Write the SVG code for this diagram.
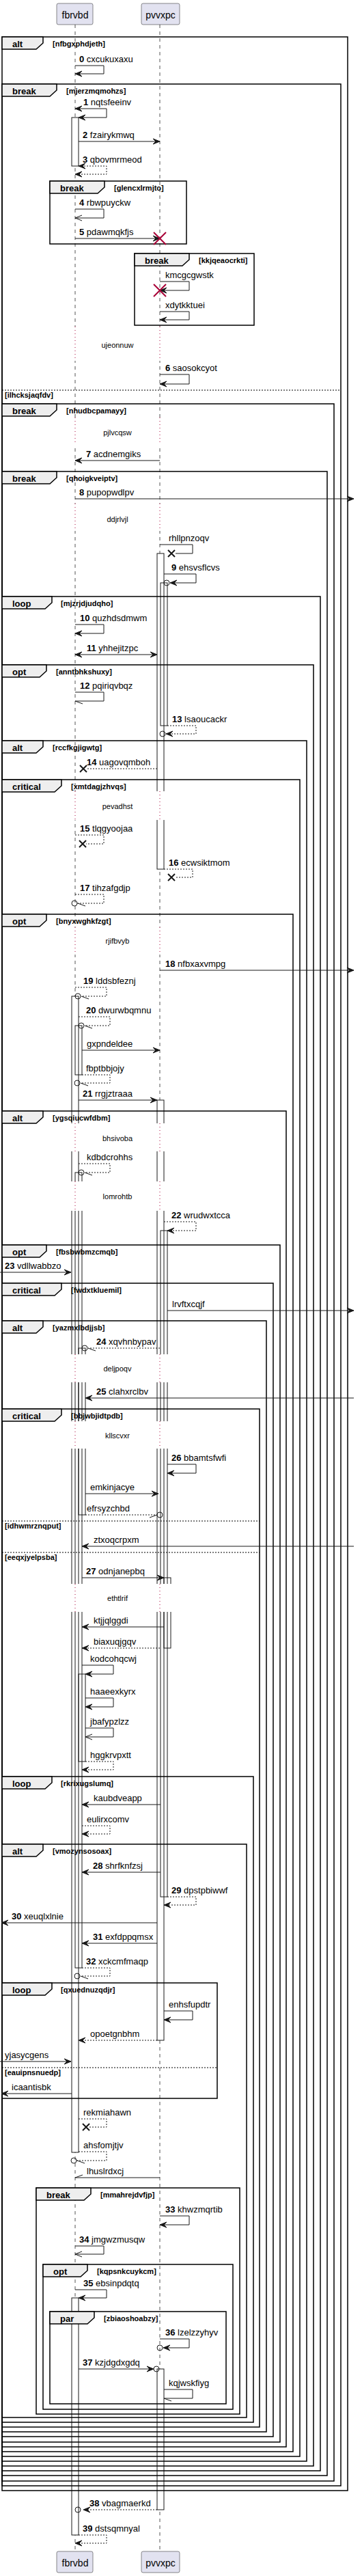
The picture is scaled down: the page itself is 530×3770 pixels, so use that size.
<svg xmlns="http://www.w3.org/2000/svg" width="530" height="3770" viewBox="0 0 530 3770">
<style>
text{font-family:"Liberation Sans",Arial,sans-serif;fill:#000}
.t{font-size:13px}
.n{font-weight:bold}
.p{font-size:14px;text-anchor:middle}
.fl{font-size:13px;font-weight:bold}
.fc{font-size:11px;font-weight:bold}
.dt{font-size:11px;text-anchor:middle}
.fr{fill:none;stroke:#000;stroke-width:1.5}
.tab{fill:#EEEEEE;stroke:#000;stroke-width:1.5}
.sep{stroke:#000;stroke-width:1;stroke-dasharray:2,2}
.ll{stroke:#555;stroke-width:1;stroke-dasharray:5,5}
.af{fill:#fff;stroke:none}
.as{fill:none;stroke:#181818;stroke-width:1}
.m{fill:none;stroke:#181818;stroke-width:1}
.d{stroke-dasharray:2,2}
.dl{stroke:#A80036;stroke-width:1;stroke-dasharray:1,4}
.pb{fill:#E2E2F0;stroke:#181818;stroke-width:0.5}
</style>
<defs>
<path id="hl" d="M0,0 L10,-4 L6,0 L10,4 Z" fill="#181818" stroke="#181818" stroke-width="1"/>
<path id="hr" d="M0,0 L-10,-4 L-6,0 L-10,4 Z" fill="#181818" stroke="#181818" stroke-width="1"/>
<path id="ol" d="M10,-4 L0,0 L10,4" fill="none" stroke="#181818" stroke-width="1"/>
<path id="hll" d="M0,0 L11,4" stroke="#181818" stroke-width="1"/>
<path id="hlr" d="M0,0 L-11,4" stroke="#181818" stroke-width="1"/>
<path id="hul" d="M0,0 L11,-4" stroke="#181818" stroke-width="1"/>
<circle id="oc" r="4" fill="none" stroke="#181818" stroke-width="1"/>
<path id="rx" d="M-9,-9 L9,9 M9,-9 L-9,9" stroke="#A80036" stroke-width="2"/>
<path id="bx" d="M-5,-5 L5,5 M5,-5 L-5,5" stroke="#181818" stroke-width="2"/>
</defs>
<rect width="530" height="3770" fill="#fff"/>

<g id="lifelines">
<line x1="110" y1="36" x2="110" y2="3734" class="ll"/>
<line x1="234" y1="36" x2="234" y2="3734" class="ll"/>
</g>

<g id="p-fbrvbd">
<rect x="83" y="5" width="53" height="31" rx="2.5" class="pb"/>
<text x="110" y="27" class="p">fbrvbd</text>
<rect x="83" y="3734" width="53" height="31" rx="2.5" class="pb"/>
<text x="110" y="3756" class="p">fbrvbd</text>
</g>
<g id="p-pvvxpc">
<rect x="207" y="5" width="56" height="31" rx="2.5" class="pb"/>
<text x="235" y="27" class="p">pvvxpc</text>
<rect x="207" y="3734" width="56" height="31" rx="2.5" class="pb"/>
<text x="235" y="3756" class="p">pvvxpc</text>
</g>

<g id="activations">
<rect x="105" y="172" width="10" height="71" class="af"/>
<rect x="105" y="1458" width="10" height="1692" class="af"/>
<rect x="110" y="1501" width="10" height="72" class="af"/>
<rect x="110" y="1716" width="10" height="1164" class="af"/>
<rect x="115" y="1973" width="10" height="244" class="af"/>
<rect x="115" y="2450" width="10" height="128" class="af"/>
<rect x="105" y="3363" width="10" height="347" class="af"/>
<rect x="230" y="810" width="10" height="462" class="af"/>
<rect x="235" y="853" width="10" height="209" class="af"/>
<rect x="230" y="1610" width="10" height="1376" class="af"/>
<rect x="235" y="1801" width="10" height="975" class="af"/>
<rect x="240" y="2309" width="10" height="103" class="af"/>
<rect x="230" y="3467" width="10" height="206" class="af"/>
<rect x="105" y="172" width="10" height="71" class="as"/>
<rect x="105" y="1458" width="10" height="1692" class="as"/>
<rect x="110" y="1501" width="10" height="72" class="as"/>
<rect x="110" y="1716" width="10" height="1164" class="as"/>
<rect x="115" y="1973" width="10" height="244" class="as"/>
<rect x="115" y="2450" width="10" height="128" class="as"/>
<rect x="105" y="3363" width="10" height="347" class="as"/>
<rect x="230" y="810" width="10" height="462" class="as"/>
<rect x="235" y="853" width="10" height="209" class="as"/>
<rect x="230" y="1610" width="10" height="1376" class="as"/>
<rect x="235" y="1801" width="10" height="975" class="as"/>
<rect x="240" y="2309" width="10" height="103" class="as"/>
<rect x="230" y="3467" width="10" height="206" class="as"/>
</g>

<g id="delays">
<rect x="98" y="478" width="155" height="50" class="af"/>
<line x1="110" y1="478" x2="110" y2="528" class="dl"/><line x1="234" y1="478" x2="234" y2="528" class="dl"/>
<text x="172" y="509" class="dt">ujeonnuw</text>
<rect x="98" y="611" width="155" height="40" class="af"/>
<line x1="110" y1="611" x2="110" y2="651" class="dl"/><line x1="234" y1="611" x2="234" y2="651" class="dl"/>
<text x="172" y="637" class="dt">pjlvcqsw</text>
<rect x="98" y="737" width="155" height="40" class="af"/>
<line x1="110" y1="737" x2="110" y2="777" class="dl"/><line x1="234" y1="737" x2="234" y2="777" class="dl"/>
<text x="172" y="764" class="dt">ddjrlvjl</text>
<rect x="98" y="1158" width="155" height="42" class="af"/>
<line x1="110" y1="1158" x2="110" y2="1200" class="dl"/><line x1="234" y1="1158" x2="234" y2="1200" class="dl"/>
<text x="172" y="1184" class="dt">pevadhst</text>
<rect x="98" y="1357" width="155" height="40" class="af"/>
<line x1="110" y1="1357" x2="110" y2="1397" class="dl"/><line x1="234" y1="1357" x2="234" y2="1397" class="dl"/>
<text x="172" y="1381" class="dt">rjifbvyb</text>
<rect x="98" y="1644" width="155" height="41" class="af"/>
<line x1="110" y1="1644" x2="110" y2="1685" class="dl"/><line x1="234" y1="1644" x2="234" y2="1685" class="dl"/>
<text x="172" y="1670" class="dt">bhsivoba</text>
<rect x="98" y="1729" width="155" height="43" class="af"/>
<line x1="110" y1="1729" x2="110" y2="1772" class="dl"/><line x1="234" y1="1729" x2="234" y2="1772" class="dl"/>
<text x="172" y="1755" class="dt">lomrohtb</text>
<rect x="98" y="1982" width="155" height="41" class="af"/>
<line x1="110" y1="1982" x2="110" y2="2023" class="dl"/><line x1="234" y1="1982" x2="234" y2="2023" class="dl"/>
<text x="172" y="2007" class="dt">deljpoqv</text>
<rect x="98" y="2080" width="155" height="40" class="af"/>
<line x1="110" y1="2080" x2="110" y2="2120" class="dl"/><line x1="234" y1="2080" x2="234" y2="2120" class="dl"/>
<text x="172" y="2105" class="dt">kllscvxr</text>
<rect x="98" y="2318" width="155" height="41" class="af"/>
<line x1="110" y1="2318" x2="110" y2="2359" class="dl"/><line x1="234" y1="2318" x2="234" y2="2359" class="dl"/>
<text x="172" y="2343" class="dt">ethtlrif</text>
</g>

<g id="frame-alt-nfbgxphdjeth">
<rect x="3" y="54" width="506" height="3591" class="fr"/>
<path d="M3,54 H63 V63 L53,72 H3 Z" class="tab"/>
<text x="18" y="69" class="fl">alt</text><text x="77" y="68" class="fc">[nfbgxphdjeth]</text>
<line x1="3" y1="571" x2="499" y2="571" class="sep"/>
<text x="7" y="582" class="fc">[ilhcksjaqfdv]</text>
</g>
<g id="frame-break-mjerzmqmohzs">
<rect x="3" y="123" width="496" height="3515" class="fr"/>
<path d="M3,123 H83 V132 L73,141 H3 Z" class="tab"/>
<text x="18" y="138" class="fl">break</text><text x="97" y="137" class="fc">[mjerzmqmohzs]</text>
</g>
<g id="frame-break-glencxlrmjto">
<rect x="73" y="265" width="200" height="92" class="fr"/>
<path d="M73,265 H153 V274 L143,283 H73 Z" class="tab"/>
<text x="88" y="280" class="fl">break</text><text x="167" y="279" class="fc">[glencxlrmjto]</text>
</g>
<g id="frame-break-kkjqeaocrkti">
<rect x="197" y="371" width="175" height="105" class="fr"/>
<path d="M197,371 H277 V380 L267,389 H197 Z" class="tab"/>
<text x="212" y="386" class="fl">break</text><text x="291" y="385" class="fc">[kkjqeaocrkti]</text>
</g>
<g id="frame-break-nhudbcpamayy">
<rect x="3" y="591" width="486" height="3040" class="fr"/>
<path d="M3,591 H83 V600 L73,609 H3 Z" class="tab"/>
<text x="18" y="606" class="fl">break</text><text x="97" y="605" class="fc">[nhudbcpamayy]</text>
</g>
<g id="frame-break-qhoigkveiptv">
<rect x="3" y="690" width="476" height="2933" class="fr"/>
<path d="M3,690 H83 V699 L73,708 H3 Z" class="tab"/>
<text x="18" y="705" class="fl">break</text><text x="97" y="704" class="fc">[qhoigkveiptv]</text>
</g>
<g id="frame-loop-mjzrjdjudqho">
<rect x="3" y="873" width="466" height="2743" class="fr"/>
<path d="M3,873 H76 V882 L66,891 H3 Z" class="tab"/>
<text x="18" y="888" class="fl">loop</text><text x="89" y="887" class="fc">[mjzrjdjudqho]</text>
</g>
<g id="frame-opt-anntbhkshuxy">
<rect x="3" y="973" width="456" height="2636" class="fr"/>
<path d="M3,973 H68 V982 L58,991 H3 Z" class="tab"/>
<text x="18" y="988" class="fl">opt</text><text x="82" y="987" class="fc">[anntbhkshuxy]</text>
</g>
<g id="frame-alt-rccfkgjigwtg">
<rect x="3" y="1084" width="446" height="2518" class="fr"/>
<path d="M3,1084 H63 V1093 L53,1102 H3 Z" class="tab"/>
<text x="18" y="1099" class="fl">alt</text><text x="77" y="1098" class="fc">[rccfkgjigwtg]</text>
</g>
<g id="frame-critical-xmtdagjzhvqs">
<rect x="3" y="1141" width="436" height="2454" class="fr"/>
<path d="M3,1141 H90 V1150 L80,1159 H3 Z" class="tab"/>
<text x="18" y="1156" class="fl">critical</text><text x="104" y="1155" class="fc">[xmtdagjzhvqs]</text>
</g>
<g id="frame-opt-bnyxwghkfzgt">
<rect x="3" y="1338" width="426" height="2250" class="fr"/>
<path d="M3,1338 H68 V1347 L58,1356 H3 Z" class="tab"/>
<text x="18" y="1353" class="fl">opt</text><text x="82" y="1352" class="fc">[bnyxwghkfzgt]</text>
</g>
<g id="frame-alt-ygsqiucwfdbm">
<rect x="3" y="1626" width="416" height="1955" class="fr"/>
<path d="M3,1626 H63 V1635 L53,1644 H3 Z" class="tab"/>
<text x="18" y="1641" class="fl">alt</text><text x="77" y="1640" class="fc">[ygsqiucwfdbm]</text>
</g>
<g id="frame-opt-fbsbwbmzcmqb">
<rect x="3" y="1822" width="407" height="1752" class="fr"/>
<path d="M3,1822 H68 V1831 L58,1840 H3 Z" class="tab"/>
<text x="18" y="1837" class="fl">opt</text><text x="82" y="1836" class="fc">[fbsbwbmzcmqb]</text>
</g>
<g id="frame-critical-fwdxtkluemil">
<rect x="3" y="1878" width="397" height="1688" class="fr"/>
<path d="M3,1878 H90 V1887 L80,1896 H3 Z" class="tab"/>
<text x="18" y="1893" class="fl">critical</text><text x="104" y="1892" class="fc">[fwdxtkluemil]</text>
</g>
<g id="frame-alt-yazmxlbdjjsb">
<rect x="3" y="1933" width="387" height="1626" class="fr"/>
<path d="M3,1933 H63 V1942 L53,1951 H3 Z" class="tab"/>
<text x="18" y="1948" class="fl">alt</text><text x="77" y="1947" class="fc">[yazmxlbdjjsb]</text>
</g>
<g id="frame-critical-bbjwbjidtpdb">
<rect x="3" y="2062" width="377" height="1490" class="fr"/>
<path d="M3,2062 H90 V2071 L80,2080 H3 Z" class="tab"/>
<text x="18" y="2077" class="fl">critical</text><text x="104" y="2076" class="fc">[bbjwbjidtpdb]</text>
<line x1="3" y1="2226" x2="380" y2="2226" class="sep"/>
<text x="7" y="2237" class="fc">[idhwmrznqput]</text>
<line x1="3" y1="2272" x2="380" y2="2272" class="sep"/>
<text x="7" y="2283" class="fc">[eeqxjyelpsba]</text>
</g>
<g id="frame-loop-rkrixugslumq">
<rect x="3" y="2600" width="368" height="945" class="fr"/>
<path d="M3,2600 H76 V2609 L66,2618 H3 Z" class="tab"/>
<text x="18" y="2615" class="fl">loop</text><text x="89" y="2614" class="fc">[rkrixugslumq]</text>
</g>
<g id="frame-alt-vmozynsosoax">
<rect x="3" y="2699" width="358" height="839" class="fr"/>
<path d="M3,2699 H63 V2708 L53,2717 H3 Z" class="tab"/>
<text x="18" y="2714" class="fl">alt</text><text x="77" y="2713" class="fc">[vmozynsosoax]</text>
</g>
<g id="frame-loop-qxuednuzqdjr">
<rect x="3" y="2902" width="315" height="169" class="fr"/>
<path d="M3,2902 H76 V2911 L66,2920 H3 Z" class="tab"/>
<text x="18" y="2917" class="fl">loop</text><text x="89" y="2916" class="fc">[qxuednuzqdjr]</text>
<line x1="3" y1="3026" x2="318" y2="3026" class="sep"/>
<text x="7" y="3037" class="fc">[eauipnsnuedp]</text>
</g>
<g id="frame-break-mmahrejdvfjp">
<rect x="53" y="3202" width="298" height="331" class="fr"/>
<path d="M53,3202 H133 V3211 L123,3220 H53 Z" class="tab"/>
<text x="68" y="3217" class="fl">break</text><text x="147" y="3216" class="fc">[mmahrejdvfjp]</text>
</g>
<g id="frame-opt-kqpsnkcuykcm">
<rect x="63" y="3314" width="278" height="212" class="fr"/>
<path d="M63,3314 H128 V3323 L118,3332 H63 Z" class="tab"/>
<text x="78" y="3329" class="fl">opt</text><text x="142" y="3328" class="fc">[kqpsnkcuykcm]</text>
</g>
<g id="frame-par-zbiaoshoabzy">
<rect x="73" y="3383" width="258" height="135" class="fr"/>
<path d="M73,3383 H138 V3392 L128,3401 H73 Z" class="tab"/>
<text x="88" y="3398" class="fl">par</text><text x="152" y="3397" class="fc">[zbiaoshoabzy]</text>
</g>

<g id="connectors">
<path d="M110,96 H152 V108 H110" class="m"/><use href="#hl" x="110" y="108"/>
<path d="M110,159 H156 V172 H115" class="m"/><use href="#hl" x="110" y="159"/><use href="#hl" x="115" y="172"/>
<path d="M115,207 H234" class="m"/><use href="#hr" x="234" y="207"/>
<path d="M115,243 H156 V255 H110" class="m d"/><use href="#hl" x="115" y="243"/><use href="#hl" x="110" y="255"/>
<path d="M110,306 H152 V319 H110" class="m"/><use href="#ol" x="110" y="319"/>
<path d="M110,349 H234" class="m"/><use href="#hr" x="234" y="349"/><use href="#rx" x="234" y="349"/>
<path d="M234,412 H277 V425 H234" class="m"/><use href="#hl" x="234" y="425"/><use href="#rx" x="234" y="425"/>
<path d="M234,456 H277 V468 H234" class="m"/><use href="#hl" x="234" y="468"/>
<path d="M234,548 H277 V562 H234" class="m"/><use href="#hl" x="234" y="562"/>
<path d="M234,674 H110" class="m"/><use href="#hl" x="110" y="674"/>
<path d="M110,730 H518" class="m"/><use href="#hr" x="518" y="730"/>
<path d="M234,797 H282 V810 H257" class="m"/><use href="#bx" x="251" y="810"/>
<path d="M240,840 H287 V853 H249" class="m"/><use href="#hl" x="249" y="853"/><use href="#oc" x="244" y="853"/>
<path d="M110,914 H152 V927 H110" class="m"/><use href="#hl" x="110" y="927"/>
<path d="M110,958 H230" class="m"/><use href="#hl" x="110" y="958"/><use href="#hr" x="230" y="958"/>
<path d="M110,1013 H152 V1026 H110" class="m"/><use href="#hll" x="110" y="1026"/>
<path d="M245,1062 H287 V1074 H243" class="m d"/><use href="#hl" x="243" y="1074"/><use href="#oc" x="238" y="1074"/>
<path d="M230,1125 H127" class="m d"/><use href="#bx" x="122" y="1125"/>
<path d="M110,1222 H152 V1235 H126" class="m d"/><use href="#bx" x="121" y="1235"/>
<path d="M240,1272 H282 V1284 H256" class="m d"/><use href="#bx" x="251" y="1284"/>
<path d="M110,1309 H152 V1322 H113" class="m d"/><use href="#hll" x="114" y="1322"/><use href="#oc" x="109" y="1322"/>
<path d="M234,1420 H518" class="m"/><use href="#hr" x="518" y="1420"/>
<path d="M110,1445 H156 V1458 H119" class="m d"/><use href="#hll" x="119" y="1458"/><use href="#oc" x="114" y="1458"/>
<path d="M115,1488 H161 V1501 H124" class="m d"/><use href="#hll" x="124" y="1501"/><use href="#oc" x="119" y="1501"/>
<path d="M120,1537 H234" class="m"/><use href="#hr" x="234" y="1537"/>
<path d="M120,1573 H161 V1585 H118" class="m d"/><use href="#hll" x="118" y="1585"/><use href="#oc" x="113" y="1585"/>
<path d="M115,1610 H230" class="m"/><use href="#hr" x="230" y="1610"/>
<path d="M115,1703 H161 V1716 H124" class="m d"/><use href="#hll" x="124" y="1716"/><use href="#oc" x="119" y="1716"/>
<path d="M240,1788 H287 V1801 H245" class="m d"/><use href="#hl" x="245" y="1801"/>
<path d="M0,1862 H104" class="m"/><use href="#hr" x="104" y="1862"/>
<path d="M245,1918 H518" class="m"/><use href="#hr" x="518" y="1918"/>
<path d="M234,1973 H129" class="m d"/><use href="#hll" x="129" y="1973"/><use href="#oc" x="124" y="1973"/>
<path d="M518,2046 H125" class="m"/><use href="#hl" x="125" y="2046"/>
<path d="M245,2143 H287 V2156 H245" class="m"/><use href="#hl" x="245" y="2156"/>
<path d="M125,2186 H232" class="m"/><use href="#hr" x="232" y="2186"/>
<path d="M125,2217 H230" class="m d"/><use href="#hlr" x="230" y="2217"/><use href="#oc" x="234" y="2217"/>
<path d="M518,2263 H120" class="m"/><use href="#hl" x="120" y="2263"/>
<path d="M120,2309 H240" class="m"/><use href="#hr" x="240" y="2309"/>
<path d="M240,2381 H120" class="m"/><use href="#hl" x="120" y="2381"/>
<path d="M234,2412 H120" class="m d"/><use href="#hl" x="120" y="2412"/>
<path d="M120,2437 H166 V2450 H125" class="m"/><use href="#hl" x="125" y="2450"/>
<path d="M125,2485 H166 V2498 H125" class="m"/><use href="#hl" x="125" y="2498"/>
<path d="M125,2529 H166 V2542 H125" class="m"/><use href="#ol" x="125" y="2542"/>
<path d="M125,2578 H166 V2590 H120" class="m d"/><use href="#hl" x="120" y="2590"/>
<path d="M235,2641 H120" class="m"/><use href="#hl" x="120" y="2641"/>
<path d="M120,2672 H161 V2684 H120" class="m d"/><use href="#hl" x="120" y="2684"/>
<path d="M235,2740 H120" class="m"/><use href="#hl" x="120" y="2740"/>
<path d="M245,2776 H287 V2788 H240" class="m d"/><use href="#hl" x="240" y="2788"/>
<path d="M230,2814 H2" class="m"/><use href="#hl" x="2" y="2814"/>
<path d="M230,2844 H120" class="m"/><use href="#hl" x="120" y="2844"/>
<path d="M120,2880 H161 V2892 H118" class="m d"/><use href="#hll" x="118" y="2892"/><use href="#oc" x="113" y="2892"/>
<path d="M240,2943 H282 V2956 H240" class="m"/><use href="#hl" x="240" y="2956"/>
<path d="M230,2986 H115" class="m d"/><use href="#hl" x="115" y="2986"/>
<path d="M0,3017 H104" class="m"/><use href="#hr" x="104" y="3017"/>
<path d="M105,3064 H2" class="m"/><use href="#hl" x="2" y="3064"/>
<path d="M115,3101 H156 V3113 H131" class="m d"/><use href="#bx" x="126" y="3113"/>
<path d="M115,3149 H156 V3162 H112" class="m d"/><use href="#hll" x="113" y="3162"/><use href="#oc" x="108" y="3162"/>
<path d="M234,3187 H110" class="m"/><use href="#hul" x="110" y="3187"/>
<path d="M234,3243 H277 V3256 H234" class="m"/><use href="#hl" x="234" y="3256"/>
<path d="M110,3287 H152 V3299 H110" class="m"/><use href="#ol" x="110" y="3299"/>
<path d="M110,3351 H156 V3363 H115" class="m"/><use href="#hl" x="115" y="3363"/>
<path d="M234,3423 H277 V3436 H239" class="m"/><use href="#hl" x="239" y="3436"/><use href="#oc" x="234" y="3436"/>
<path d="M115,3467 H225" class="m"/><use href="#hr" x="225" y="3467"/><use href="#oc" x="229" y="3467"/>
<path d="M240,3497 H282 V3510 H240" class="m"/><use href="#hll" x="240" y="3510"/>
<path d="M230,3673 H122" class="m d"/><use href="#hl" x="122" y="3673"/><use href="#oc" x="114" y="3673"/>
<path d="M115,3710 H156 V3722 H110" class="m d"/><use href="#hl" x="110" y="3722"/>
</g>

<g id="labels" class="t">
<text x="116" y="91" class="t"><tspan class="n">0</tspan> cxcukuxaxu</text>
<text x="122" y="154" class="t"><tspan class="n">1</tspan> nqtsfeeinv</text>
<text x="121" y="202" class="t"><tspan class="n">2</tspan> fzairykmwq</text>
<text x="121" y="238" class="t"><tspan class="n">3</tspan> qbovmrmeod</text>
<text x="116" y="301" class="t"><tspan class="n">4</tspan> rbwpuyckw</text>
<text x="116" y="344" class="t"><tspan class="n">5</tspan> pdawmqkfjs</text>
<text x="242" y="407" class="t">kmcgcgwstk</text>
<text x="242" y="451" class="t">xdytkktuei</text>
<text x="242" y="543" class="t"><tspan class="n">6</tspan> saosokcyot</text>
<text x="126" y="669" class="t"><tspan class="n">7</tspan> acdnemgiks</text>
<text x="116" y="725" class="t"><tspan class="n">8</tspan> pupopwdlpv</text>
<text x="247" y="792" class="t">rhllpnzoqv</text>
<text x="251" y="835" class="t"><tspan class="n">9</tspan> ehsvsflcvs</text>
<text x="117" y="909" class="t"><tspan class="n">10</tspan> quzhdsdmwm</text>
<text x="127" y="953" class="t"><tspan class="n">11</tspan> yhhejitzpc</text>
<text x="117" y="1008" class="t"><tspan class="n">12</tspan> pqiriqvbqz</text>
<text x="252" y="1057" class="t"><tspan class="n">13</tspan> lsaoucackr</text>
<text x="127" y="1120" class="t"><tspan class="n">14</tspan> uagovqmboh</text>
<text x="117" y="1217" class="t"><tspan class="n">15</tspan> tlqgyoojaa</text>
<text x="247" y="1267" class="t"><tspan class="n">16</tspan> ecwsiktmom</text>
<text x="117" y="1304" class="t"><tspan class="n">17</tspan> tihzafgdjp</text>
<text x="242" y="1415" class="t"><tspan class="n">18</tspan> nfbxaxvmpg</text>
<text x="122" y="1440" class="t"><tspan class="n">19</tspan> lddsbfeznj</text>
<text x="126" y="1483" class="t"><tspan class="n">20</tspan> dwurwbqmnu</text>
<text x="127" y="1532" class="t">gxpndeldee</text>
<text x="126" y="1568" class="t">fbptbbjojy</text>
<text x="121" y="1605" class="t"><tspan class="n">21</tspan> rrgjztraaa</text>
<text x="127" y="1698" class="t">kdbdcrohhs</text>
<text x="251" y="1783" class="t"><tspan class="n">22</tspan> wrudwxtcca</text>
<text x="7" y="1857" class="t"><tspan class="n">23</tspan> vdllwabbzo</text>
<text x="252" y="1913" class="t">lrvftxcqjf</text>
<text x="141" y="1968" class="t"><tspan class="n">24</tspan> xqvhnbypav</text>
<text x="141" y="2041" class="t"><tspan class="n">25</tspan> clahxrclbv</text>
<text x="251" y="2138" class="t"><tspan class="n">26</tspan> bbamtsfwfi</text>
<text x="132" y="2181" class="t">emkinjacye</text>
<text x="127" y="2212" class="t">efrsyzchbd</text>
<text x="137" y="2258" class="t">ztxoqcrpxm</text>
<text x="126" y="2304" class="t"><tspan class="n">27</tspan> odnjanepbq</text>
<text x="137" y="2376" class="t">ktjjqlggdi</text>
<text x="137" y="2407" class="t">biaxuqjgqv</text>
<text x="132" y="2432" class="t">kodcohqcwj</text>
<text x="132" y="2480" class="t">haaeexkyrx</text>
<text x="132" y="2524" class="t">jbafypzlzz</text>
<text x="132" y="2573" class="t">hggkrvpxtt</text>
<text x="137" y="2636" class="t">kaubdveapp</text>
<text x="127" y="2667" class="t">eulirxcomv</text>
<text x="136" y="2735" class="t"><tspan class="n">28</tspan> shrfknfzsj</text>
<text x="251" y="2771" class="t"><tspan class="n">29</tspan> dpstpbiwwf</text>
<text x="17" y="2809" class="t"><tspan class="n">30</tspan> xeuqlxlnie</text>
<text x="136" y="2839" class="t"><tspan class="n">31</tspan> exfdppqmsx</text>
<text x="126" y="2875" class="t"><tspan class="n">32</tspan> xckcmfmaqp</text>
<text x="247" y="2938" class="t">enhsfupdtr</text>
<text x="132" y="2981" class="t">opoetgnbhm</text>
<text x="7" y="3012" class="t">yjasycgens</text>
<text x="17" y="3059" class="t">icaantisbk</text>
<text x="122" y="3096" class="t">rekmiahawn</text>
<text x="122" y="3144" class="t">ahsfomjtjv</text>
<text x="127" y="3182" class="t">lhuslrdxcj</text>
<text x="242" y="3238" class="t"><tspan class="n">33</tspan> khwzmqrtib</text>
<text x="116" y="3282" class="t"><tspan class="n">34</tspan> jmgwzmusqw</text>
<text x="122" y="3346" class="t"><tspan class="n">35</tspan> ebsinpdqtq</text>
<text x="242" y="3418" class="t"><tspan class="n">36</tspan> lzelzzyhyv</text>
<text x="121" y="3462" class="t"><tspan class="n">37</tspan> kzjdgdxgdq</text>
<text x="247" y="3492" class="t">kqjwskfiyg</text>
<text x="131" y="3668" class="t"><tspan class="n">38</tspan> vbagmaerkd</text>
<text x="121" y="3705" class="t"><tspan class="n">39</tspan> dstsqmnyal</text>
</g>
</svg>
